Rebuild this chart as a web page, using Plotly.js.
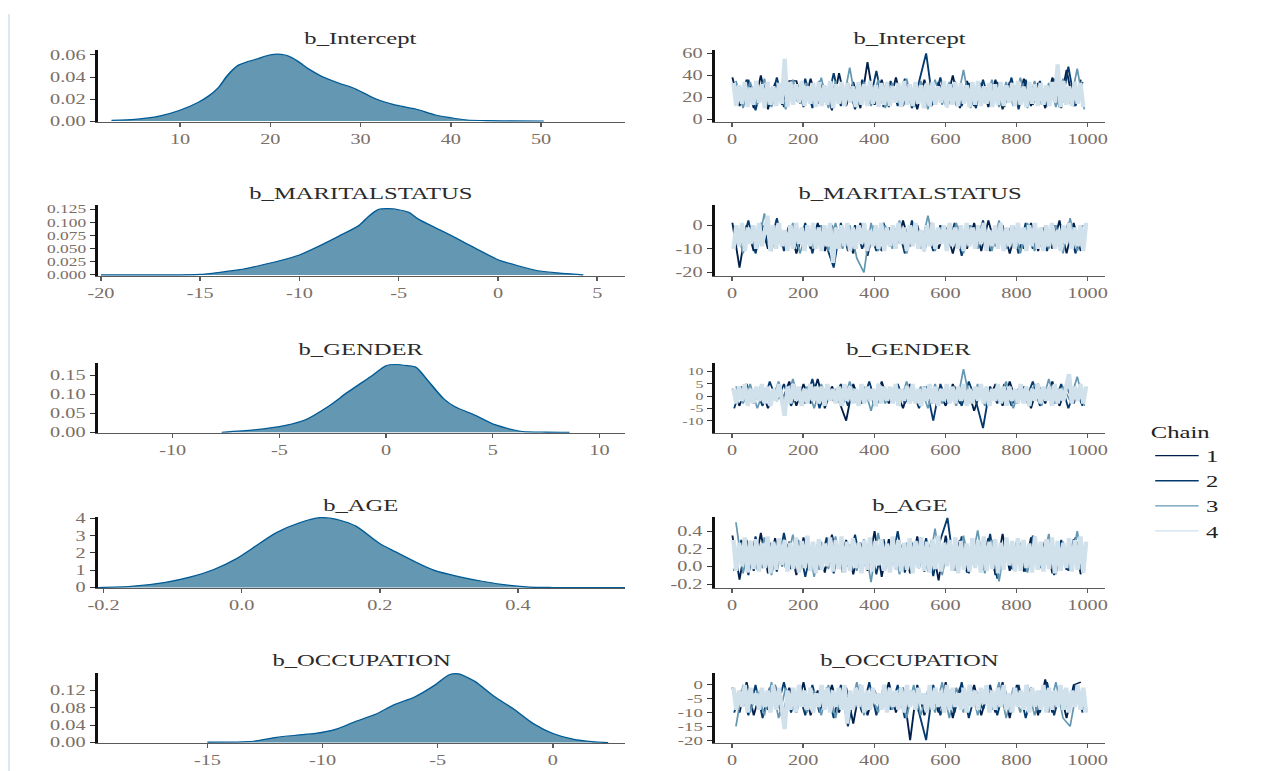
<!DOCTYPE html>
<html><head><meta charset="utf-8">
<script src="https://cdn.plot.ly/plotly-3.0.1.min.js"></script>
<style>
html,body{margin:0;padding:0;background:#fff;overflow:hidden;}
#wrap{width:1268px;height:771px;overflow:hidden;position:relative;}
#chart{width:875px;height:771px;transform:scaleX(1.4491);transform-origin:0 0;}
</style></head><body><div id="wrap"><div id="chart"></div></div>
<script>
// ---------- data ----------
const params = ['b_Intercept','b_MARITALSTATUS','b_GENDER','b_AGE','b_OCCUPATION'];
const chains = ['1','2','3','4'];

// posterior densities
const densIntercept_x = [2.4,5.0,7.7,9.9,12.0,13.2,14.2,15.3,16.4,17.5,18.6,19.5,20.4,21.2,22.0,23.0,24.3,25.6,27.4,29.5,31.7,33.9,36.1,38.3,40.5,41.8,44.0,47.0,50.3];
const densIntercept_y = [0.0006,0.0015,0.0045,0.0096,0.0170,0.0230,0.0300,0.0420,0.0505,0.0540,0.0565,0.0590,0.0605,0.0605,0.0590,0.0545,0.0470,0.0410,0.0350,0.0290,0.0200,0.0145,0.0110,0.0055,0.0024,0.0010,0.0004,0.0002,0.0001];
const densMarital_x = [-20.0,-17.0,-15.0,-14.0,-13.0,-12.0,-11.0,-10.0,-9.0,-8.0,-7.0,-6.5,-6.0,-5.5,-5.0,-4.5,-4.0,-3.0,-2.0,-1.0,0.0,1.0,2.0,3.0,4.0,4.3];
const densMarital_y = [0,0,0.001,0.005,0.010,0.018,0.027,0.038,0.055,0.074,0.094,0.112,0.125,0.126,0.124,0.119,0.106,0.087,0.068,0.048,0.029,0.0175,0.008,0.004,0.001,0];
const densGender_x = [-7.7,-6.2,-4.7,-3.8,-2.7,-1.8,-0.65,0.0,0.45,1.0,1.4,1.9,2.7,3.2,4.2,5.1,6.0,6.4,7.5,8.6];
const densGender_y = [0,0.006,0.018,0.032,0.068,0.105,0.149,0.175,0.178,0.175,0.171,0.140,0.088,0.068,0.044,0.020,0.006,0.002,0.0005,0];
const densAge_x = [-0.208,-0.16,-0.11,-0.075,-0.041,-0.007,0.016,0.05,0.085,0.113,0.136,0.165,0.199,0.222,0.251,0.279,0.314,0.348,0.388,0.417,0.45,0.555];
const densAge_y = [0,0.06,0.3,0.6,1.03,1.68,2.28,3.17,3.76,4.04,3.96,3.56,2.57,2.08,1.49,0.99,0.63,0.36,0.12,0.02,0,0];
const densOccupation_x = [-15,-13.0,-12.0,-11.1,-10.3,-9.4,-8.6,-7.7,-6.9,-6.0,-5.1,-4.5,-4.1,-3.4,-2.6,-1.7,-0.86,0.0,0.86,1.7,2.4];
const densOccupation_y = [0.001,0.003,0.012,0.017,0.021,0.031,0.048,0.065,0.087,0.105,0.133,0.156,0.158,0.141,0.108,0.077,0.044,0.021,0.008,0.002,0];

// thinned MCMC draws: chains 1-3 every 20th iteration, chain 4 every 8th
const thinSparse = {start:[1,6,11], step:20};
const thinDense = {start:4, step:8};

const intercept_c1 = [38,12,36,10,40,9,33,13,35,35,11,37,14,30,8,42,12,34,10,52,13,36,11,38,12,31,9,36,12,34,13,40,10,35,12,33,11,36,9,34,13,37,12,33,10,38,11,45,12,36];
const intercept_c2 = [30,14,36,8,34,12,38,11,33,15,37,10,35,13,42,12,33,9,36,14,44,11,35,12,37,10,34,60,13,38,11,35,12,33,10,36,14,34,11,38,9,36,13,35,12,37,10,48,12,34];
const intercept_c3 = [35,10,34,13,37,11,32,9,36,14,33,12,38,10,35,13,47,11,34,12,36,10,33,14,37,11,35,9,36,13,34,12,45,10,33,15,36,11,34,12,38,10,35,13,33,11,37,14,46,9];
const intercept_c4 = [33,12,31,14,34,11,29,13,35,15,32,10,34,13,30,12,33,14,55,11,34,13,32,15,35,12,30,14,33,11,34,12,31,13,35,10,32,14,34,12,33,15,30,11,34,13,32,12,35,14,31,11,33,13,34,12,30,15,33,11,35,13,32,12,34,14,31,10,33,12,34,13,30,15,35,11,32,13,34,12,33,14,31,11,34,13,35,12,30,14,33,11,32,13,34,12,31,15,33,12,35,13,30,11,34,14,32,12,33,13,31,12,34,15,50,11,35,13,30,12,34,14,33,11];
const marital_c1 = [1,-18,0,-11,1,-10,-2,-9,0,-12,-1,-10,1,-11,0,-10,-2,-12,1,-13,0,-11,-1,-10,2,-9,0,-11,1,-10,-1,-12,0,-10,1,-11,2,-9,0,-12,-1,-10,1,-11,0,-10,2,-12,1,-11];
const marital_c2 = [-1,-9,2,-12,0,-10,3,-11,-1,-10,1,-12,0,-9,-18,1,-11,0,-10,-2,-11,1,-9,0,-12,2,-10,-1,-11,0,-10,1,-13,0,-9,2,-11,-1,-10,0,-12,1,-10,-2,-11,0,-9,1,-12,0];
const marital_c3 = [0,-12,-1,-10,5,-11,0,-9,1,-12,-2,-10,0,-11,1,-10,0,-14,-20,1,-11,0,-10,2,-12,-1,-10,4,-11,0,-9,1,-12,0,-10,-1,-11,2,-10,0,-12,1,-11,-1,-10,0,-12,3,-11,-2];
const marital_c4 = [-10,0,-9,1,-11,-1,-8,0,-10,1,-9,-1,4,-11,0,-10,1,-9,-2,-11,0,-10,1,-8,-1,-11,0,-9,1,-10,-1,-11,0,-9,1,-16,-1,-10,0,-9,1,-11,-1,-10,0,-8,1,-11,-2,-9,0,-10,1,-11,-1,-9,0,-10,1,-8,-1,-11,0,-9,1,-10,-2,-11,0,-9,1,-10,-1,-8,0,-11,1,-9,-1,-10,0,-11,1,-9,-1,-10,0,-8,1,-11,-2,-9,0,-10,1,-11,-1,-9,0,-10,1,-8,-1,-11,0,-9,1,-10,-1,-11,0,-9,1,-10,-2,-11,0,-8,1,-10,-1,-9,0,-11,1];
const gender_c1 = [3,-4,5,-3,4,-5,2,-2,6,-4,5,-3,7,-5,4,-2,-10,5,-3,4,-4,6,-3,3,-5,5,-2,4,-3,2,-4,5,-3,4,-6,3,-2,5,-4,6,-3,4,-5,5,-3,6,-4,4,-3,5];
const gender_c2 = [-5,4,-3,3,-4,6,-2,5,-4,3,-3,7,-5,4,-2,5,-4,3,-3,6,-4,4,-2,5,-3,3,-5,4,-10,5,-3,4,-4,6,-2,-13,4,-3,5,-4,3,-2,6,-4,4,-3,5,-5,3,-4];
const gender_c3 = [4,-3,5,-5,3,-2,6,-4,7,-3,4,-5,5,-2,3,-4,6,-3,4,-6,5,-3,3,-4,6,-2,4,-5,5,-3,2,-4,11,-3,5,-4,3,-2,6,-5,4,-3,5,-4,7,-3,4,-2,8,-4];
const gender_c4 = [3,-3,4,-2,5,-4,3,-3,4,-2,5,-3,4,-4,3,-2,5,-3,-8,4,-3,5,-2,4,-4,3,-3,5,-2,4,-3,4,-4,5,-2,3,-3,4,-4,5,-2,4,-3,3,-4,5,-3,4,-2,3,-4,5,-3,4,-2,4,-3,5,-4,3,-2,4,-3,5,-3,3,-4,4,-2,5,-3,4,-4,3,-2,5,-3,4,-3,4,-2,5,-4,3,-3,4,-2,5,-3,4,-4,3,-2,5,-3,4,-4,4,-2,3,-3,5,-3,4,-4,3,-2,5,-3,4,-2,4,-4,5,-3,3,-2,4,9,-3,4,-2,5,-3,4];
const age_c1 = [0.35,-0.15,0.3,-0.05,0.38,-0.08,0.32,0.0,0.28,-0.1,0.33,-0.04,0.25,-0.07,0.36,-0.02,0.3,-0.09,0.27,-0.05,0.4,-0.12,0.31,-0.03,0.26,-0.08,0.34,-0.06,0.29,-0.16,0.35,-0.04,0.3,-0.07,0.24,-0.02,0.32,-0.1,0.37,-0.05,0.28,-0.06,0.33,-0.03,0.3,-0.08,0.26,-0.04,0.31,-0.09];
const age_c2 = [-0.05,0.3,-0.1,0.34,-0.02,0.27,-0.06,0.38,-0.03,0.3,-0.12,0.25,-0.04,0.33,-0.08,0.29,0.0,0.36,-0.05,0.28,-0.09,0.31,-0.03,0.4,-0.07,0.27,-0.02,0.32,-0.11,0.3,0.55,-0.05,0.34,-0.08,0.26,-0.04,0.37,-0.14,0.29,-0.03,0.31,-0.06,0.35,-0.02,0.28,-0.1,0.3,-0.05,0.33,-0.07];
const age_c3 = [0.5,-0.08,0.29,-0.04,0.33,-0.1,0.26,-0.02,0.36,-0.06,0.3,-0.12,0.28,-0.03,0.34,-0.07,0.25,-0.05,0.31,-0.18,0.38,-0.04,0.3,-0.09,0.27,-0.02,0.33,-0.06,0.43,-0.1,0.29,-0.05,0.35,-0.03,0.41,-0.08,0.3,-0.17,0.32,-0.04,0.26,-0.07,0.34,-0.02,0.37,-0.09,0.28,-0.05,0.4,-0.06];
const age_c4 = [0.3,-0.05,0.27,0.0,0.33,-0.07,0.29,-0.03,0.31,-0.06,0.26,-0.02,0.34,-0.08,0.28,-0.04,0.32,0.01,0.3,-0.06,0.27,-0.03,0.33,-0.07,0.29,-0.02,0.35,-0.05,0.28,-0.08,0.31,-0.04,0.26,0.0,0.33,-0.06,0.3,-0.03,0.34,-0.07,0.28,-0.05,0.32,-0.02,0.27,-0.08,0.3,-0.04,0.33,-0.06,0.29,0.01,0.31,-0.05,0.26,-0.07,0.34,-0.03,0.3,-0.06,0.27,-0.04,0.32,-0.08,0.29,-0.02,0.33,-0.05,0.28,-0.07,0.31,-0.03,0.35,-0.06,0.27,0.0,0.3,-0.05,0.33,-0.08,0.29,-0.04,0.26,-0.06,0.32,-0.02,0.3,-0.07,0.34,-0.05,0.28,-0.03,0.31,-0.08,0.27,-0.04,0.33,0.01,0.29,-0.06,0.32,-0.05,0.3,-0.02,0.26,-0.07,0.34,-0.04,0.28,-0.06,0.31,-0.03,0.33,-0.08,0.29,-0.05,0.27,-0.02,0.32,-0.06,0.3,-0.04,0.34,-0.07,0.28];
const occupation_c1 = [-1,-10,1,-11,-2,-9,0,-12,-1,-10,1,-11,-2,-9,0,-10,-1,-14,0,-11,-2,-9,1,-10,-1,-20,0,-11,-2,-10,1,-12,-1,-9,0,-11,-2,-10,1,-12,0,-9,-1,-11,2,-10,-1,-12,0,1];
const occupation_c2 = [-10,-2,-11,0,-12,-1,-9,1,-10,-2,-11,0,-10,-1,-12,0,-15,-2,-10,1,-11,-1,-9,0,-12,-2,-10,-20,0,-11,-1,-10,1,-12,-2,-9,0,-11,-1,-10,0,-12,-2,-10,1,-11,-1,-9,0,-10];
const occupation_c3 = [-15,0,-10,-2,-11,1,-12,-1,-9,0,-10,-2,-11,0,-12,-1,-10,1,-11,-3,-10,0,-9,-1,-12,0,-11,-2,-10,1,-12,-1,-10,0,-11,-2,-9,1,-12,-1,-10,0,-11,-2,-10,1,-12,-15,-1,-9];
const occupation_c4 = [-1,-9,-2,-8,0,-10,-1,-7,-3,-9,-1,-8,-2,-10,0,-9,-1,-8,-16,-2,-9,-1,-10,0,-8,-2,-9,-1,-10,-3,-8,0,-9,-1,-10,-2,-8,-1,-9,0,-14,-2,-9,-1,-8,0,-10,-2,-9,-1,-7,-3,-9,0,-10,-1,-8,-2,-9,-1,-10,0,-8,-2,-9,-1,-7,-3,-10,0,-9,-1,-8,-2,-10,0,-9,-1,-8,-3,-9,-1,-10,0,-8,-2,-9,-1,-7,0,-10,-2,-9,-1,-8,0,-9,-3,-10,-1,-8,-2,-9,0,-10,-1,-8,-2,-9,0,-10,-1,-9,-2,-8,0,-9,-1,-10,-2,-8,0,-9,-1,-10];

// tick labels
const densXticks = [['10','20','30','40','50'],['-20','-15','-10','-5','0','5'],['-10','-5','0','5','10'],['-0.2','0.0','0.2','0.4'],['-15','-10','-5','0']];
const densYticks = [['0.00','0.02','0.04','0.06'],['0.000','0.025','0.050','0.075','0.100','0.125'],['0.00','0.05','0.10','0.15'],['0','1','2','3','4'],['0.00','0.04','0.08','0.12']];
const traceXticks = ['0','200','400','600','800','1000'];
const traceYticks = [['0','20','40','60'],['-20','-10','0'],['-10','-5','0','5','10'],['-0.2','0.0','0.2','0.4'],['-20','-15','-10','-5','0']];

// ---------- layout helpers ----------
const W = 1268, H = 771;
const FONT = 'Liberation Serif, "Times New Roman", Times, serif';
const TICKCOL = '#7b6e66';
const chainColors = ['#011f4b','#03396c','#6497b1','#d1e1ec'];
const chainWidths = [1.3,1.3,1.2,3.0];
const legendWidth = 1.3;
const densFill = '#6497b1', densLine = '#005b96';

const dens = [[densIntercept_x,densIntercept_y],[densMarital_x,densMarital_y],[densGender_x,densGender_y],[densAge_x,densAge_y],[densOccupation_x,densOccupation_y]];
const draws = [
  [intercept_c1,intercept_c2,intercept_c3,intercept_c4],
  [marital_c1,marital_c2,marital_c3,marital_c4],
  [gender_c1,gender_c2,gender_c3,gender_c4],
  [age_c1,age_c2,age_c3,age_c4],
  [occupation_c1,occupation_c2,occupation_c3,occupation_c4]
];
function iterOf(c, k){
  return c < 3 ? thinSparse.start[c] + thinSparse.step*k : thinDense.start + thinDense.step*k;
}

const leftCol = [98, 625], rightCol = [715, 1105];
const rowsPx = [[50,122],[205,276],[363,433],[517,588],[673,743]];
const titleY = [38,193,350,505,660];
const densXrange = [[0.9,59.3],[-20.15,6.4],[-13.5,11.2],[-0.208,0.555],[-19.75,3.13]];
const densYrange = [[-0.0008,0.0645],[-0.002,0.133],[-0.002,0.182],[-0.03,4.08],[-0.001,0.160]];
const traceXrange = [-48,1049];
const traceYrange = [[-2.5,63],[-21.5,8.5],[-15,13.5],[-0.245,0.56],[-21,4.3]];
const densYfont = [14,12,14,14,14];
const traceYfont = [14,14,11,14,13];

const xd = c => [c[0]/W, c[1]/W];
const yd = r => [1 - r[1]/H, 1 - r[0]/H];
const tf = s => ({family: FONT, size: s, color: TICKCOL});

function xAxis(dom, range, ticks, anchor){
  return {domain: dom, range: range, anchor: anchor, showgrid:false, zeroline:false,
    showline:true, linecolor:'#5a5a5a', linewidth:1.2, ticks:'outside', ticklen:4,
    tickcolor:'#5a5a5a', tickwidth:1, tickmode:'array', tickvals: ticks.map(Number),
    ticktext: ticks, tickfont: tf(14), fixedrange:true};
}
function yAxis(dom, range, ticks, anchor, fs){
  return {domain: dom, range: range, anchor: anchor, showgrid:false, zeroline:false,
    showline:true, linecolor:'#111', linewidth:1.6, ticks:'outside', ticklen:4,
    tickcolor:'#333', tickwidth:1, tickmode:'array', tickvals: ticks.map(Number),
    ticktext: ticks, tickfont: tf(fs), fixedrange:true};
}

const data = [];
const layout = {
  width: 875, height: H, margin:{l:0,r:0,t:0,b:0},
  paper_bgcolor:'#fff', plot_bgcolor:'#fff',
  font:{family: FONT, color:'#222'},
  showlegend:true,
  legend:{x:1148/W, y:1-416/H, xanchor:'left', yanchor:'top',
    title:{text:'Chain', font:{family:FONT, size:17, color:'#222'}},
    font:{family:FONT, size:17, color:'#222'}, bgcolor:'rgba(0,0,0,0)',
    tracegroupgap:0, itemwidth:30},
  annotations:[],
  shapes:[{type:'line', xref:'paper', yref:'paper', x0:9/W, x1:9/W, y0:0, y1:1-14/H,
    line:{color:'#d3e0ea', width:1}}]
};

params.forEach((p, r) => {
  const iL = 2*r + 1, iR = 2*r + 2;
  const xL = iL === 1 ? 'x' : 'x'+iL, yL = iL === 1 ? 'y' : 'y'+iL;
  const xR = 'x'+iR, yR = 'y'+iR;
  const kL = iL === 1 ? '' : String(iL);
  layout['xaxis'+kL] = xAxis(xd(leftCol), densXrange[r], densXticks[r], yL);
  layout['yaxis'+kL] = yAxis(yd(rowsPx[r]), densYrange[r], densYticks[r], xL, densYfont[r]);
  layout['xaxis'+iR] = xAxis(xd(rightCol), traceXrange, traceXticks, yR);
  layout['yaxis'+iR] = yAxis(yd(rowsPx[r]), traceYrange[r], traceYticks[r], xR, traceYfont[r]);

  data.push({type:'scatter', mode:'lines', x: dens[r][0], y: dens[r][1],
    xaxis:xL, yaxis:yL, fill:'tozeroy', fillcolor: densFill,
    line:{color: densLine, width:1.2, shape:'spline', smoothing:0.7},
    showlegend:false, hoverinfo:'x+y'});

  draws[r].forEach((vals, c) => {
    data.push({type:'scatter', mode:'lines',
      x: vals.map((v,k) => iterOf(c, k)), y: vals,
      xaxis:xR, yaxis:yR, name: chains[c], legendgroup:'chain'+chains[c],
      showlegend: false, line:{color: chainColors[c], width: chainWidths[c]},
      hoverinfo:'x+y'});
  });

  [leftCol, rightCol].forEach(col => {
    layout.annotations.push({text: p, xref:'paper', yref:'paper',
      x: (col[0]+col[1])/2/W, y: 1 - titleY[r]/H, xanchor:'center', yanchor:'middle',
      showarrow:false, font:{family:FONT, size:17, color:'#2a2a2a'}});
  });
});

// legend keys (thin lines, as in the reference legend); no drawn points
chains.forEach((ch, c) => {
  data.push({type:'scatter', mode:'lines', x:[null], y:[null], xaxis:'x2', yaxis:'y2',
    name: ch, legendgroup:'chain'+ch, showlegend:true,
    line:{color: chainColors[c], width: legendWidth}, hoverinfo:'skip'});
});

Plotly.newPlot('chart', data, layout, {displayModeBar:false, responsive:false});
</script></body></html>
